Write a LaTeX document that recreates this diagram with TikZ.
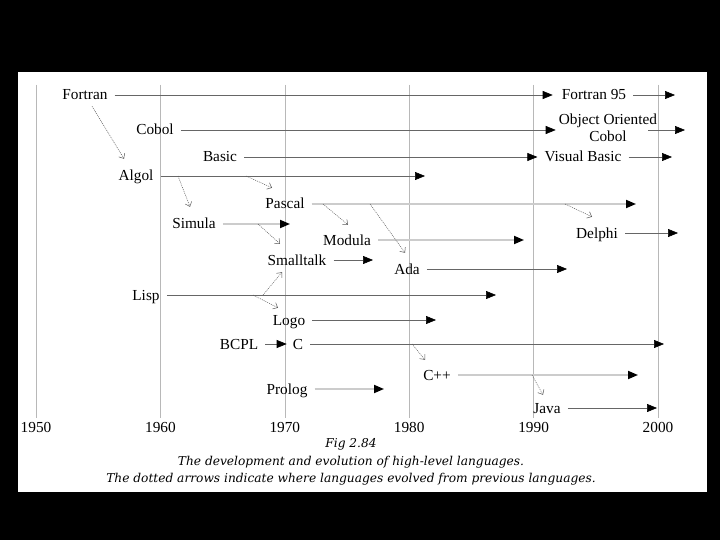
\documentclass[tikz,border=0pt]{standalone}
\usepackage{fontspec}
\setmainfont{Liberation Serif}
\newfontfamily\capfont{DejaVu Serif}
\usepackage{xcolor}
\usetikzlibrary{positioning, calc, arrows.meta}
\definecolor{gridgray}{gray}{0.72}
\definecolor{linegray}{gray}{0.4}
\definecolor{palegray}{gray}{0.8}
\definecolor{dotgray}{gray}{0.35}

\begin{document}
\begin{tikzpicture}[x=1pt,y=-1pt,
    lang/.style={inner xsep=3pt,inner ysep=2pt,text height=10pt,text depth=0pt,text=black,font=\fontsize{15.3}{17}\selectfont},
    line/.style={draw=linegray,semithick,shorten <=4pt,shorten >=4pt,-{Triangle[length=10pt,width=8pt,color=black]}},
    paleline/.style={line,draw=palegray,line width=1.8pt},
    derived/.style={draw=dotgray,line width=0.5pt,dash pattern=on 1pt off 1pt,-{Straight Barb[length=4pt,width=7pt]}}]
  \fill[black](0,0) rectangle (720,540);%page
  \fill[white](18,72) rectangle (707,492);
  % years
  \foreach \yr [count=\i from 0] in {1950,1960,...,2000}
    \draw[gridgray](36+124.4*\i,85)--(36+124.4*\i,418)node[lang,below=2pt](yr\yr){\yr};
  % languages
  \node[lang](fortran) at (85,95){Fortran};
  \node[lang](fortran95) at (594,95){Fortran 95};
  \node[lang](cobol) at (155,130){Cobol};
  \node[align=center,inner sep=3pt,font=\fontsize{15.3}{17}\selectfont](oocobol) at (608,128){Object Oriented\\Cobol};
  \node[lang](basic) at (220,157){Basic};
  \node[lang](vbasic) at (583,157){Visual Basic};
  \node[lang](algol) at (136,176){Algol};
  \node[lang](pascal) at (285,204){Pascal};
  \node[lang](simula) at (194,224){Simula};
  \node[lang](delphi) at (597,233){Delphi};
  \node[lang](modula) at (347,240){Modula};
  \node[lang](smalltalk) at (297,260){Smalltalk};
  \node[lang](ada) at (407,269){Ada};
  \node[lang](lisp) at (146,295){Lisp};
  \node[lang](logo) at (289,320){Logo};
  \node[lang](bcpl) at (239,344){BCPL};
  \node[lang](c) at (298,344){C};
  \node[lang](cpp) at (437,375){C++};
  \node[lang](prolog) at (287,389){Prolog};
  \node[lang](java) at (547,408){Java};
  % solid arrows
  \draw[line,shorten >=6pt](fortran)--(fortran95);
  \draw[line,shorten >=0pt](cobol)--(cobol -| oocobol.west);
  \draw[line](basic)--(vbasic);
  \draw[line,shorten >=3pt](bcpl)--(c);
  \draw[line,shorten <=0pt](oocobol.east |- cobol)++(-12,0)--(689,130);
  \foreach \n/\x/\s in {fortran95/675/line,vbasic/672/line,algol/425/line,pascal/636/paleline,
      simula/290/paleline,delphi/678/line,modula/524/paleline,smalltalk/373/line,ada/567/line,
      lisp/496/line,logo/436/line,c/664/line,cpp/638/paleline,prolog/384/paleline,java/657/line}
    \draw[\s,shorten >=0pt](\n)--(\n -| \x,0);
  % dotted arrows
  \coordinate(algolA) at (178,176);
  \coordinate(algolB) at (246,176);
  \coordinate(simulaA) at (258,224);
  \coordinate(lispA) at (263,295);
  \coordinate(lispB) at (253,295);
  \coordinate(pascalA) at (323,204);
  \coordinate(pascalB) at (370,204);
  \coordinate(pascalC) at (565,204);
  \coordinate(cA) at (412,344);
  \coordinate(cppA) at (532,375);
  \draw[derived]([xshift=7pt,yshift=-4pt]fortran.south)--([xshift=-12pt,yshift=10pt]algol.north);
  \draw[derived](algolA)--([xshift=-4pt,yshift=10pt]simula.north);
  \draw[derived](algolB)--([xshift=-13pt,yshift=9pt]pascal.north);
  \draw[derived](simulaA)--([xshift=-17pt,yshift=9pt]smalltalk.north);
  \draw[derived](lispA)--([xshift=-15pt,yshift=-5pt]smalltalk.south);
  \draw[derived](lispB)--([xshift=-11pt,yshift=5pt]logo.north);
  \draw[derived](pascalA)--([xshift=1pt,yshift=8pt]modula.north);
  \draw[derived](pascalB)--([xshift=-2pt,yshift=9pt]ada.north);
  \draw[derived](pascalC)--([xshift=-5pt,yshift=9pt]delphi.north);
  \draw[derived](cA)--([xshift=-12pt,yshift=8pt]cpp.north);
  \draw[derived](cppA)--([xshift=-4pt,yshift=6pt]java.north);
  % caption
  \node[align=center,font=\capfont\itshape\fontsize{12.2}{17.5}\selectfont](caption) at (351,462)
    {Fig 2.84\\The development and evolution of high-level languages.\\The dotted arrows indicate where languages evolved from previous languages.};
\end{tikzpicture}
\end{document}
